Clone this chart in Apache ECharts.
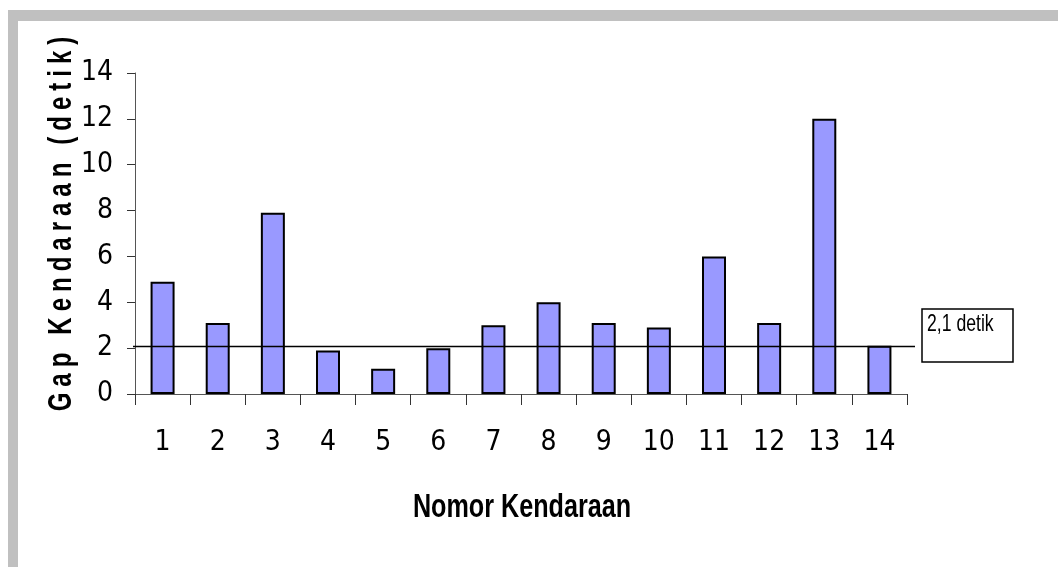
<!DOCTYPE html>
<html>
<head>
<meta charset="utf-8">
<script src="https://cdn.jsdelivr.net/npm/echarts@6/dist/echarts.min.js"></script>
<style>
  html, body { margin: 0; padding: 0; background: #fff; }
  #chart { width: 1058px; height: 567px; }
</style>
</head>
<body>
<div id="chart"></div>
<script>
const categories = ['1', '2', '3', '4', '5', '6', '7', '8', '9', '10', '11', '12', '13', '14'];
const gapValues = [4.9, 3.1, 7.9, 1.9, 1.1, 2.0, 3.0, 4.0, 3.1, 2.9, 6.0, 3.1, 12.0, 2.1];
const refValue = 2.1;
const refLabel = '2,1 detik';
const yTitle = 'Gap Kendaraan (detik)';
const xTitle = 'Nomor Kendaraan';

// spaced-out y title like the original
const spaced = yTitle.split(' ').map(w => w.split('').join('\u2005')).join('\u2005\u2005\u2005');

const cond = '"DejaVu Sans Condensed", "Liberation Sans", sans-serif';
const arial = '"Liberation Sans", Arial, sans-serif';

const chart = echarts.init(document.getElementById('chart'));

const option = {
  animation: false,
  backgroundColor: '#fff',
  grid: { left: 135, right: 151, top: 73, bottom: 173 },
  graphic: [
    { type: 'rect', shape: { x: 8, y: 10, width: 1050, height: 11 }, style: { fill: '#c0c0c0' } },
    { type: 'rect', shape: { x: 8, y: 10, width: 10, height: 557 }, style: { fill: '#c0c0c0' } },
    { type: 'rect', shape: { x: 922, y: 309, width: 91, height: 53 }, style: { fill: '#fff', stroke: '#000', lineWidth: 1.5 } },
    { type: 'text', x: 927, y: 313, scaleX: 0.84, scaleY: 1.1, style: { text: refLabel, font: '21px ' + arial, fill: '#000' } },
    {
      type: 'text', x: 62, y: 224, rotation: Math.PI / 2, scaleY: 1.4,
      style: { text: spaced, font: 'bold 24px ' + arial, fill: '#000', textAlign: 'center', textVerticalAlign: 'middle' }
    },
    {
      type: 'text', x: 522, y: 508, scaleX: 0.74,
      style: { text: xTitle, font: 'bold 34px ' + arial, fill: '#000', textAlign: 'center', textVerticalAlign: 'middle' }
    }
  ],
  xAxis: {
    type: 'category',
    data: categories,
    axisLine: { lineStyle: { color: '#555', width: 1 } },
    axisTick: { show: true, length: 11, lineStyle: { color: '#333' } },
    axisLabel: { margin: 35, fontFamily: cond, fontSize: 28, color: '#000' },
    splitLine: { show: false }
  },
  yAxis: {
    type: 'value',
    min: 0,
    max: 14,
    interval: 2,
    axisLine: { show: true, lineStyle: { color: '#555', width: 1 } },
    axisTick: { show: true, length: 8, lineStyle: { color: '#333' } },
    axisLabel: { margin: 22, fontFamily: cond, fontSize: 28, color: '#000' },
    splitLine: { show: false }
  },
  series: [
    {
      type: 'bar',
      data: gapValues,
      barWidth: 24,
      clip: false,
      itemStyle: { color: '#9999ff', borderColor: '#000', borderWidth: 2 },
      markLine: {
        silent: true,
        symbol: 'none',
        label: { show: false },
        lineStyle: { color: '#000', width: 1.3, type: 'solid' },
        data: [[{ x: 133, yAxis: refValue }, { x: 915, yAxis: refValue }]]
      }
    }
  ]
};

chart.setOption(option);
</script>
</body>
</html>
